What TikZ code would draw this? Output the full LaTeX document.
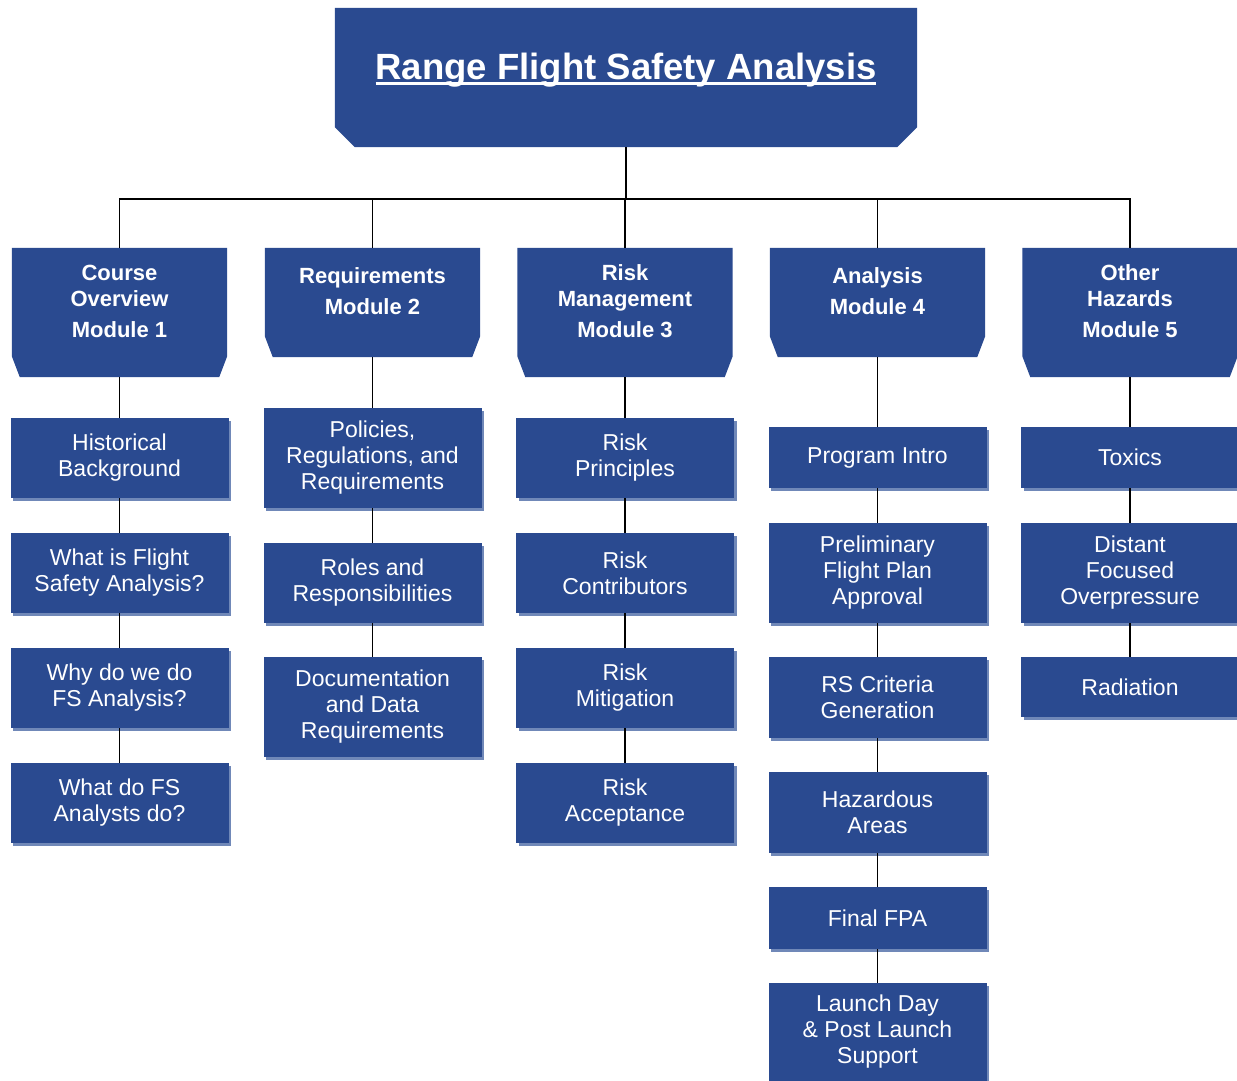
\documentclass[tikz,border=0pt]{standalone}
\usepackage{fontspec}
\setmainfont{Liberation Sans}
\usepackage{tikz}
\usetikzlibrary{shadows,backgrounds}

\definecolor{boxblue}{RGB}{42,74,144}
\definecolor{shadeblue}{RGB}{112,136,184}

\newcommand\ulthick[1]{\setbox0\hbox{#1}\rlap{\rule[-5pt]{\wd0}{2.5pt}}\box0}

\tikzset{
  headbox/.style={rectangle, inner sep=0pt, minimum width=582pt, minimum height=139pt},
  headtext/.style={text=white, font=\fontsize{36.5}{40}\selectfont\bfseries},
  module/.style={rectangle, inner sep=0pt, minimum width=215pt},
  modtext/.style={text=white, align=center, font=\fontsize{22}{26}\selectfont\bfseries},
  leaf/.style={rectangle, fill=boxblue, text=white, inner sep=0pt, minimum width=218pt,
    align=center, font=\fontsize{23}{26}\selectfont,
    drop shadow={shadow xshift=2.5pt, shadow yshift=-2.5pt, fill=shadeblue, opacity=1}},
  link/.style={line width=1.8pt}
}

\begin{document}
\begin{tikzpicture}[x=1pt,y=-1pt]
\useasboundingbox (0,0) rectangle (1237,1080);

% top
\node[headbox, label={[headtext, yshift=7pt]center:\ulthick{Range Flight Safety Analysis}}] (title) at (626,77.5) {};
\coordinate (bus) at (626,199);

% modules
\node[module, minimum height=129pt, label={[modtext, yshift=11.5pt]center:{Course\\Overview\\[5pt]Module 1}}] (m1) at (119.5,312.5) {};
\node[module, minimum height=109pt, label={[modtext, yshift=11.5pt]center:{Requirements\\[5pt]Module 2}}] (m2) at (372.5,302.5) {};
\node[module, minimum height=129pt, label={[modtext, yshift=11.5pt]center:{Risk\\Management\\[5pt]Module 3}}] (m3) at (625,312.5) {};
\node[module, minimum height=109pt, label={[modtext, yshift=11.5pt]center:{Analysis\\[5pt]Module 4}}] (m4) at (877.5,302.5) {};
\node[module, minimum height=129pt, label={[modtext, yshift=11.5pt]center:{Other\\Hazards\\[5pt]Module 5}}] (m5) at (1130,312.5) {};

% chamfered fills behind the head and module texts
\begin{scope}[on background layer]
\foreach \m/\h/\v in {title/20/20, m1/8/21, m2/8/21, m3/8/21, m4/8/21, m5/8/21}
  \fill[boxblue] (\m.north west) -- (\m.north east) -- ([yshift=\v pt]\m.south east)
    -- ([xshift=-\h pt]\m.south east) -- ([xshift=\h pt]\m.south west)
    -- ([yshift=\v pt]\m.south west) -- cycle;
\end{scope}

% module 1
\node[leaf, minimum height=80pt] (c1a) at (119.5,458) {Historical\\Background};
\node[leaf, minimum height=80pt] (c1b) at (119.5,573) {What is Flight\\Safety Analysis?};
\node[leaf, minimum height=80pt] (c1c) at (119.5,688) {Why do we do\\FS Analysis?};
\node[leaf, minimum height=80pt] (c1d) at (119.5,803) {What do FS\\Analysts do?};

% module 2
\node[leaf, minimum height=100pt] (c2a) at (372.5,458) {Policies,\\Regulations, and\\Requirements};
\node[leaf, minimum height=80pt] (c2b) at (372.5,583) {Roles and\\Responsibilities};
\node[leaf, minimum height=100pt] (c2c) at (372.5,707) {Documentation\\and Data\\Requirements};

% module 3
\node[leaf, minimum height=80pt] (c3a) at (625,458) {Risk\\Principles};
\node[leaf, minimum height=80pt] (c3b) at (625,573) {Risk\\Contributors};
\node[leaf, minimum height=80pt] (c3c) at (625,688) {Risk\\Mitigation};
\node[leaf, minimum height=80pt] (c3d) at (625,803) {Risk\\Acceptance};

% module 4
\node[leaf, minimum height=61pt] (c4a) at (877.5,457.5) {Program Intro};
\node[leaf, minimum height=100pt] (c4b) at (877.5,573) {Preliminary\\Flight Plan\\Approval};
\node[leaf, minimum height=81pt] (c4c) at (877.5,697.5) {RS Criteria\\Generation};
\node[leaf, minimum height=81pt] (c4d) at (877.5,812.5) {Hazardous\\Areas};
\node[leaf, minimum height=62pt] (c4e) at (877.5,918) {Final FPA};
\node[leaf, minimum height=98pt] (c4f) at (877.5,1032) {Launch Day\\\& Post Launch\\Support};

% module 5
\node[leaf, minimum height=61pt] (c5a) at (1130,457.5) {Toxics};
\node[leaf, minimum height=100pt] (c5b) at (1130,573) {Distant\\Focused\\Overpressure};
\node[leaf, minimum height=60pt] (c5c) at (1130,687) {Radiation};

% connectors
\draw[link] (title.south) -- (bus);
\draw[link] (m1.north) |- (bus) -| (m5.north);
\draw[link] (m2.north) -- (m2.north |- bus);
\draw[link] (m3.north) -- (m3.north |- bus);
\draw[link] (m4.north) -- (m4.north |- bus);
\draw[link] (m1) -- (c1a) -- (c1b) -- (c1c) -- (c1d);
\draw[link] (m2) -- (c2a) -- (c2b) -- (c2c);
\draw[link] (m3) -- (c3a) -- (c3b) -- (c3c) -- (c3d);
\draw[link] (m4) -- (c4a) -- (c4b) -- (c4c) -- (c4d) -- (c4e) -- (c4f);
\draw[link] (m5) -- (c5a) -- (c5b) -- (c5c);
\end{tikzpicture}
\end{document}
